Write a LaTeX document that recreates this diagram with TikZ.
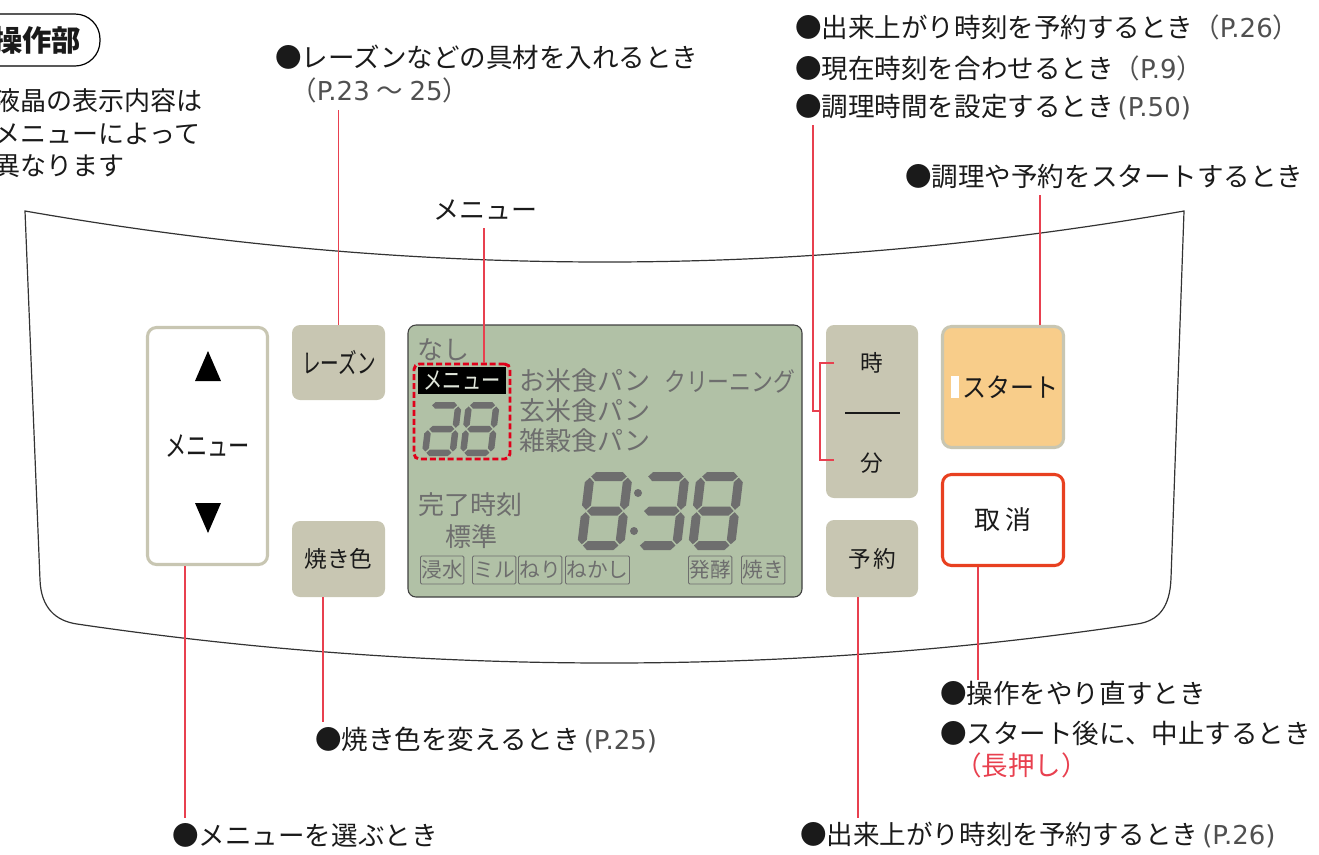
\documentclass[tikz,border=0pt]{standalone}
\usepackage{fontspec}
\setmainfont{Noto Sans CJK JP}
\newfontfamily\reff{DejaVu Sans}
\usetikzlibrary{calc}
\definecolor{btn}{HTML}{C8C6B2}
\definecolor{lcdbg}{HTML}{B1C1A6}
\definecolor{lcdtxt}{HTML}{6E6E6E}
\definecolor{lead}{HTML}{E8404F}
\definecolor{startc}{HTML}{F8CD8A}
\definecolor{cancelc}{HTML}{E84020}
\definecolor{dashred}{HTML}{E0001A}
\definecolor{refgray}{HTML}{505050}
\definecolor{inkc}{HTML}{1A1A1A}
\newcommand\fs[1]{\fontsize{#1pt}{#1pt}\selectfont}
\newcommand\px[1]{#1*0.75pt}
\newcommand\pref[1]{\textcolor{refgray}{\reff\fontsize{19.5pt}{19.5pt}\selectfont #1}}
\newcommand\hsg[3]{\fill (#1,#3) -- (#1+\sT/2,#3-\sT/2) -- (#2-\sT/2,#3-\sT/2) -- (#2,#3) -- (#2-\sT/2,#3+\sT/2) -- (#1+\sT/2,#3+\sT/2) -- cycle;}
\newcommand\vsg[3]{\fill (#3,#1) -- (#3-\sT/2,#1+\sT/2) -- (#3-\sT/2,#2-\sT/2) -- (#3,#2) -- (#3+\sT/2,#2-\sT/2) -- (#3+\sT/2,#1+\sT/2) -- cycle;}
\newcommand\segdigit[6]{%
 \begin{scope}[shift={(#1,#2)},xslant=0.12]
 \def\sW{#3}\def\sH{#4}\def\sT{#5}\def\sg{1.2}
 \foreach \s in {#6}{%
  \ifcase\s\or
   \hsg{\sT/2+\sg}{\sW-\sT/2-\sg}{\sT/2}%
  \or \vsg{\sT/2+\sg}{\sH/2-\sg}{\sW-\sT/2}%
  \or \vsg{\sH/2+\sg}{\sH-\sT/2-\sg}{\sW-\sT/2}%
  \or \hsg{\sT/2+\sg}{\sW-\sT/2-\sg}{\sH-\sT/2}%
  \or \vsg{\sH/2+\sg}{\sH-\sT/2-\sg}{\sT/2}%
  \or \vsg{\sT/2+\sg}{\sH/2-\sg}{\sT/2}%
  \or \hsg{\sT/2+\sg}{\sW-\sT/2-\sg}{\sH/2}%
  \fi}
 \end{scope}}
\tikzset{
 lbl/.style={anchor=west, inner sep=0pt, text=inkc, font=\fs{19.9}},
 lcdlbl/.style={anchor=west, inner sep=0pt, text=lcdtxt, font=\fs{19.5}},
 leader/.style={draw=lead, line width=0.85pt},
 greybtn/.style={fill=btn, rounded corners=\px{8}, inner sep=0pt, text=inkc},
 tag/.style={draw=lcdtxt, line width=0.6pt, rounded corners=1pt, text=lcdtxt, font=\fs{15.5}, inner xsep=0.8pt, inner ysep=0pt, minimum height={\px{28}}, anchor=west},
}
\begin{document}
\begin{tikzpicture}[x=0.75pt,y=-0.75pt]
\useasboundingbox (0,0) rectangle (1319,854);
% panel outline
\draw[line width=0.9pt, black!80] (25,211) .. controls (415,279) and (795,279) .. (1184,211) -- (1171,578) .. controls (1170,608) and (1158,621) .. (1137,624) .. controls (790,676) and (430,676) .. (77,624) .. controls (56,621) and (41,608) .. (40,580) -- cycle;
% title
\node (titlebox) [draw, line width=0.9pt, rounded corners={\px{25}}, minimum width={\px{150}}, minimum height={\px{52}}, inner sep=0pt] at (25,40) {};
\node (title) [inner sep=0pt, font=\fs{22}\bfseries, text=inkc] at (37,40) {操作部};
\node (n1) [lbl, font=\fs{19.5}] at (-6,101) {液晶の表示内容は};
\node (n2) [lbl, font=\fs{19.5}] at (-6,134) {メニューによって};
\node (n3) [lbl, font=\fs{19.5}] at (-6,166) {異なります};
% top labels
\node (lRaisin) [lbl] at (275,57) {●レーズンなどの具材を入れるとき};
\node (lRaisin2) [lbl, text=refgray] at (290,90) {（\pref{P.23}\hspace{5pt}～\hspace{5pt}\pref{25}）};
\node (lMenu) [lbl, font=\fs{19.5}] at (433,210) {メニュー};
\node (lT1) [lbl] at (795,27) {●出来上がり時刻を予約するとき\textcolor{refgray}{（}\pref{P.26}\textcolor{refgray}{）}};
\node (lT2) [lbl] at (795,68) {●現在時刻を合わせるとき\textcolor{refgray}{（}\pref{P.9}\textcolor{refgray}{）}};
\node (lT3) [lbl] at (795,107) {●調理時間を設定するとき\hspace{3pt}\pref{(P.50)}};
\node (lStart) [lbl] at (905,176) {●調理や予約をスタートするとき};
% bottom labels
\node (lC1) [lbl] at (940,693) {●操作をやり直すとき};
\node (lC2) [lbl] at (940,733) {●スタート後に、中止するとき};
\node (lC3) [lbl, text=lead] at (955,765) {（長押し）};
\node (lColor) [lbl] at (315,740) {●焼き色を変えるとき\hspace{3pt}\pref{(P.25)}};
\node (lSel) [lbl] at (172,835) {●メニューを選ぶとき};
\node (lRes) [lbl] at (800,835) {●出来上がり時刻を予約するとき\hspace{3pt}\pref{(P.26)}};
% buttons
\node (menuBtn) [draw=btn, line width=2.3pt, fill=white, rounded corners={\px{9}}, minimum width={\px{120}}, minimum height={\px{237}}, inner sep=0pt] at (207.5,446) {};
\node (menuTxt) [inner sep=0pt, font=\fs{21.5}, text=inkc, xscale=0.74, transform shape] at (207.5,446) {メニュー};
\fill[black] (195,381) -- (208,351) -- (221,381) -- cycle;
\fill[black] (195,503) -- (208,533) -- (221,503) -- cycle;
\node (raisinBtn) [greybtn, minimum width={\px{93}}, minimum height={\px{75}}] at (338.5,362.5) {};
\node (raisinTxt) [inner sep=0pt, font=\fs{20.5}, text=inkc, xscale=0.68, transform shape] at (339,362.5) {レーズン};
\node (colorBtn) [greybtn, minimum width={\px{93}}, minimum height={\px{76}}, font=\fs{17}] at (338.5,559) {焼き色};
\node (timeBtn) [greybtn, minimum width={\px{92}}, minimum height={\px{173}}] at (872,411.5) {};
\node (hourTxt) [inner sep=0pt, font=\fs{17}, text=inkc] at (872,363) {時};
\node (minTxt) [inner sep=0pt, font=\fs{17}, text=inkc] at (872,463) {分};
\draw[line width=1pt, inkc] (845,413) -- (900,413);
\node (resBtn) [greybtn, minimum width={\px{92}}, minimum height={\px{77}}, font=\fs{17}] at (872,558.5) {予\hspace{2pt}約};
\node (startBtn) [draw=btn, line width=2.3pt, fill=startc, rounded corners={\px{9}}, minimum width={\px{121}}, minimum height={\px{121}}, inner sep=0pt] at (1003,387) {};
\fill[white] (951,376) rectangle (959,398);
\node (startTxt) [inner sep=0pt, font=\fs{20}, text=inkc, xscale=0.9, transform shape] at (1010,387) {スタート};
\node (cancelBtn) [draw=cancelc, line width=2.3pt, fill=white, rounded corners={\px{9}}, minimum width={\px{121}}, minimum height={\px{91}}, inner sep=0pt, font=\fs{19.5}, text=inkc] at (1003,520) {取\hspace{4pt}消};
% LCD
\node (lcd) [draw=black!75, line width=0.8pt, fill=lcdbg, rounded corners={\px{8}}, minimum width={\px{394}}, minimum height={\px{272}}, inner sep=0pt] at (605,461) {};
\node (nashi) [lcdlbl] at (417,350) {なし};
\node (menuSel) [draw=dashred, line width=2.2pt, dash pattern=on 4.5pt off 2.2pt, rounded corners=4pt, minimum width={\px{96}}, minimum height={\px{95}}, inner sep=0pt] at (462,411.5) {};
\node (menuInv) [fill=black, minimum width={\px{88}}, minimum height={\px{27}}, inner sep=0pt] at (462,380.5) {};
\node (menuInvTxt) [inner sep=0pt, text=lcdbg!40, font=\fs{18.5}, xscale=0.78, transform shape] at (462,380.5) {メニュー};
\begin{scope}[lcdtxt]
\segdigit{428}{402}{34}{54}{6.5}{1,2,3,4,5,7}
\segdigit{466}{402}{34}{54}{6.5}{1,2,3,4,5,6,7}
\segdigit{586}{472}{47}{78}{9}{1,2,3,4,5,6,7}
\segdigit{643}{472}{47}{78}{9}{1,2,3,4,7}
\segdigit{697}{472}{47}{78}{9}{1,2,3,4,5,6,7}
\fill (638,493) circle (4);
\fill (634,531) circle (4);
\end{scope}
\node (m1) [lcdlbl] at (519,381) {お米食パン};
\node (m2) [lcdlbl, xscale=0.84, transform shape] at (664,381) {クリーニング};
\node (m3) [lcdlbl] at (519,411) {玄米食パン};
\node (m4) [lcdlbl] at (519,441) {雑穀食パン};
\node (done) [lcdlbl] at (418,505) {完了時刻};
\node (std) [lcdlbl] at (445,537) {標準};
\node (t1) [tag] at (420,570) {浸水};
\node (t2) [tag] at (472,570) {ミル};
\node (t3) [tag] at (518,570) {ねり};
\node (t4) [tag] at (565,570) {ねかし};
\node (t5) [tag] at (688,570) {発酵};
\node (t6) [tag] at (741,570) {焼き};
% leaders
\coordinate (cRaisin) at (338.5,110);
\draw[leader] (raisinBtn.north) -- (cRaisin);
\coordinate (cMenu) at (484,228);
\draw[leader] (cMenu) -- (cMenu |- menuSel.north);
\coordinate (cTime) at (813,125);
\coordinate (cTimeJ) at (813,411);
\coordinate (bTop) at (834,363);
\coordinate (bBot) at (834,460);
\draw[leader] (cTime) -- (cTimeJ) -- ++(7,0);
\draw[leader] (bTop) -- ++(-14,0) |- (bBot);
\coordinate (cStart) at (1040,195);
\draw[leader] (cStart) -- (cStart |- startBtn.north);
\coordinate (cSel) at (185,818);
\draw[leader] (cSel |- menuBtn.south) -- (cSel);
\coordinate (cColor) at (323,722);
\draw[leader] (cColor |- colorBtn.south) -- (cColor);
\coordinate (cRes) at (858,818);
\draw[leader] (cRes |- resBtn.south) -- (cRes);
\coordinate (cCancel) at (978,680);
\draw[leader] (cCancel |- cancelBtn.south) -- (cCancel);
\end{tikzpicture}
\end{document}
